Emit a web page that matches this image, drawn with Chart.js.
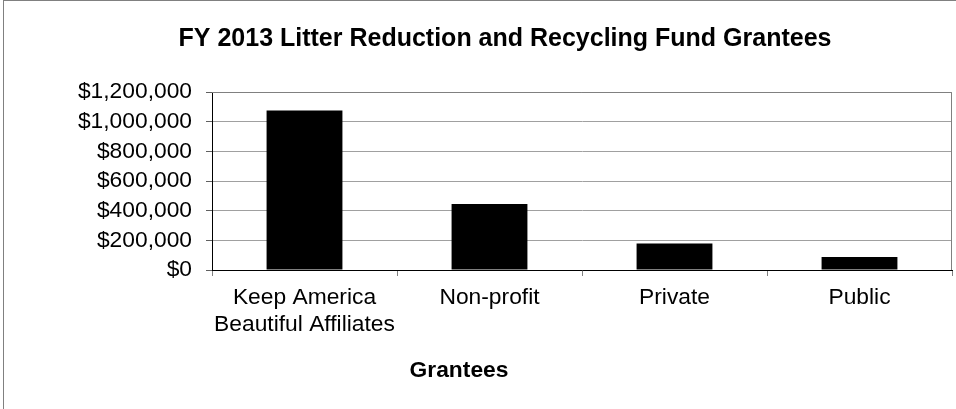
<!DOCTYPE html>
<html>
<head>
<meta charset="utf-8">
<script src="https://cdn.jsdelivr.net/npm/chart.js@4/dist/chart.umd.min.js"></script>
<style>
  body { margin: 0; background: #fff; overflow: hidden; }
  #wrap { position: absolute; left: 0; top: 0; width: 1010px; height: 409px; }
  #frame { position: absolute; left: 3px; top: 0; width: 1100px; height: 500px;
           border-left: 1px solid #808080; border-top: 1px solid #808080; pointer-events: none; }
</style>
</head>
<body>
<div id="wrap"><canvas id="grafico" width="1010" height="409"></canvas></div>
<div id="frame"></div>
<script>
const categorias = [["Keep America", "Beautiful Affiliates"], "Non-profit", "Private", "Public"];
const montos = [1075000, 445000, 178000, 87000];
const ticksY = [0, 200000, 400000, 600000, 800000, 1000000, 1200000];

const FUENTE = "'Liberation Sans', Arial, sans-serif";

// borde gris arriba y a la derecha del area de trazado
const bordeArea = {
  id: 'bordeArea',
  beforeDatasetsDraw(chart) {
    const a = chart.chartArea, ctx = chart.ctx;
    ctx.save();
    ctx.strokeStyle = '#808080';
    ctx.lineWidth = 1;
    ctx.beginPath();
    ctx.moveTo(a.left, a.top + 0.5);
    ctx.lineTo(a.right - 0.5, a.top + 0.5);
    ctx.lineTo(a.right - 0.5, a.bottom);
    ctx.stroke();
    ctx.restore();
  }
};

// titulo del eje X (desplazado como en el original)
const tituloX = {
  id: 'tituloX',
  afterDraw(chart) {
    const ctx = chart.ctx;
    ctx.save();
    ctx.font = "bold 22.8px " + FUENTE;
    ctx.fillStyle = '#000';
    ctx.textAlign = 'center';
    ctx.textBaseline = 'middle';
    ctx.fillText('Grantees', 459, 371);
    ctx.restore();
  }
};

new Chart(document.getElementById('grafico'), {
  type: 'bar',
  data: {
    labels: categorias,
    datasets: [{
      label: 'Grantees',
      data: montos,
      backgroundColor: '#000',
      borderWidth: 0,
      categoryPercentage: 1,
      barPercentage: 0.41
    }]
  },
  options: {
    responsive: false,
    animation: false,
    devicePixelRatio: 1,
    layout: { padding: { left: 58, right: 58, top: 0, bottom: 0 } },
    plugins: {
      legend: { display: false },
      tooltip: { enabled: false },
      title: {
        display: true,
        text: 'FY 2013 Litter Reduction and Recycling Fund Grantees',
        color: '#000',
        font: { family: FUENTE, size: 25, weight: 'bold', lineHeight: 1.2 },
        padding: { top: 24, bottom: 38 }
      }
    },
    scales: {
      x: {
        grid: { offset: true, drawOnChartArea: false, tickLength: 6, color: '#808080' },
        border: { color: '#000', width: 1 },
        ticks: { color: '#000', padding: 9, maxRotation: 0, autoSkip: false,
                 font: { family: FUENTE, size: 22.8, lineHeight: 1.15 } },
        afterFit(scale) { scale.height = 139; }
      },
      y: {
        min: 0,
        max: 1200000,
        afterBuildTicks(scale) { scale.ticks = ticksY.map(v => ({ value: v })); },
        grid: { color: '#a0a0a0', tickLength: 6, tickColor: '#606060' },
        border: { color: '#000', width: 1 },
        ticks: {
          color: '#000', padding: 14, autoSkip: false,
          font: { family: FUENTE, size: 22.8 },
          callback: v => '$' + Number(v).toLocaleString('en-US')
        },
        afterFit(scale) { scale.width = 154; }
      }
    }
  },
  plugins: [bordeArea, tituloX]
});
</script>
</body>
</html>
